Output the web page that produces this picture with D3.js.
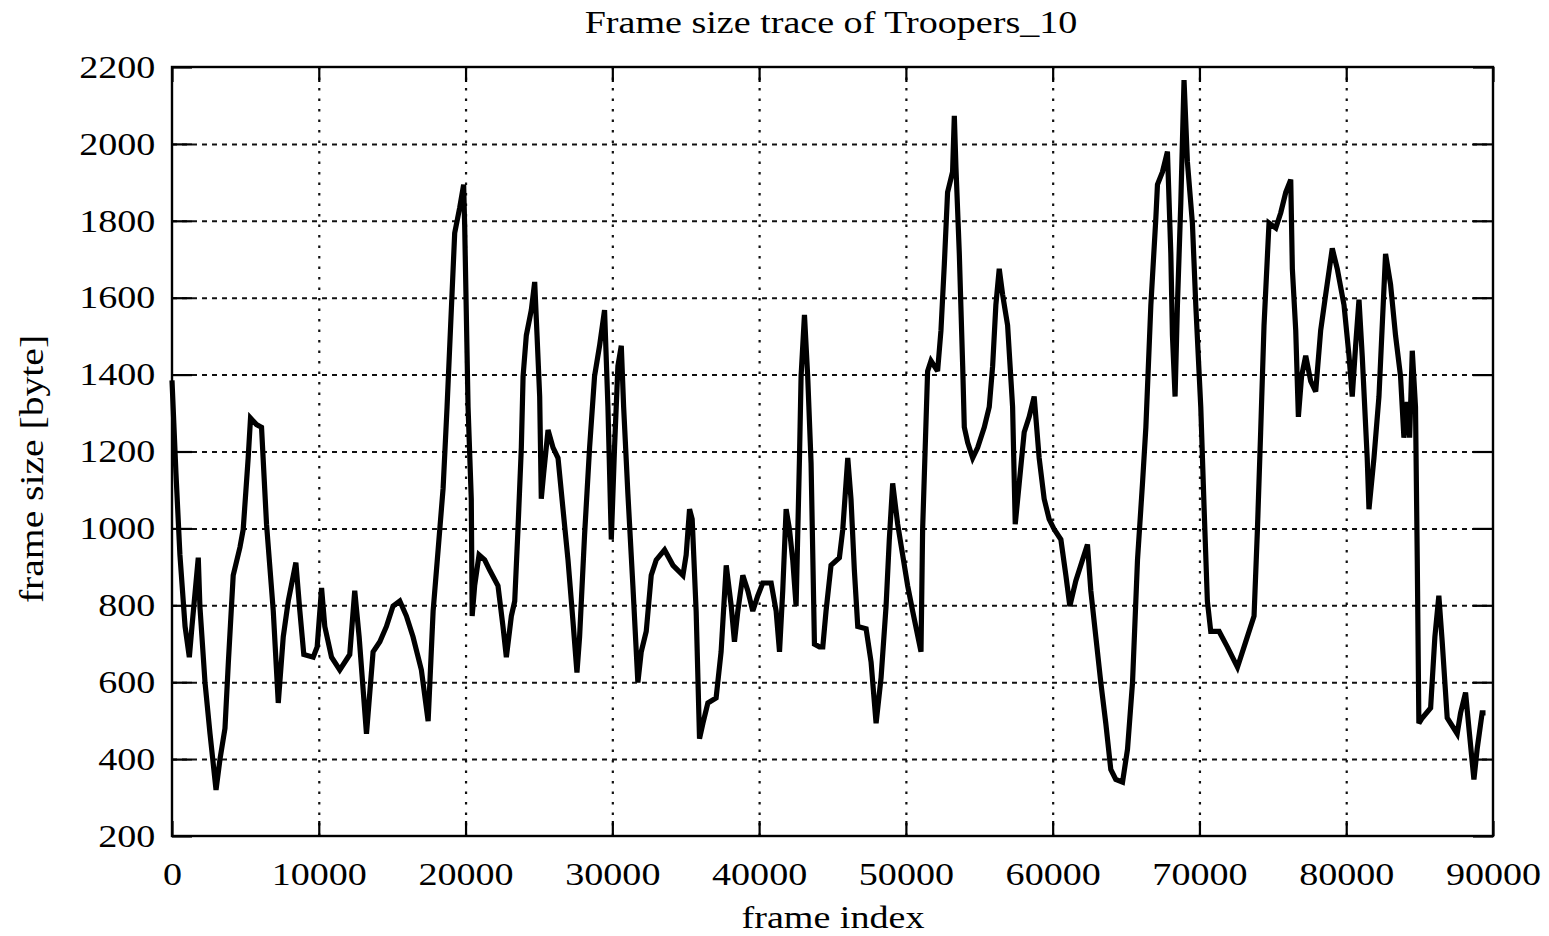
<!DOCTYPE html>
<html>
<head>
<meta charset="utf-8">
<script src="https://cdn.jsdelivr.net/npm/d3@7"></script>
<style>
  html, body { margin: 0; padding: 0; background: #fff; }
  svg { display: block; }
  text { font-family: "Liberation Serif", "Times New Roman", serif; fill: #000; }
</style>
</head>
<body>
<svg id="chart" width="1549" height="936"></svg>
<script>
const titleText = "Frame size trace of Troopers_10";
const xLabelText = "frame index";
const yLabelText = "frame size [byte]";

const xTicks = [0, 10000, 20000, 30000, 40000, 50000, 60000, 70000, 80000, 90000];
const yTicks = [200, 400, 600, 800, 1000, 1200, 1400, 1600, 1800, 2000, 2200];

const frameIndex = [
  0, 270, 540, 890, 1180, 1360, 1790, 1900, 2250, 2590, 3000, 3270, 3610, 3840, 4170, 4630, 4850,
  5190, 5350, 5760, 6100, 6440, 6900, 7240, 7580, 7920, 8440, 8710, 8980, 9620, 9890, 10190, 10410,
  10870, 11430, 12110, 12450, 12750, 13250, 13700, 14160, 14610, 15060, 15520, 15970, 16420, 16990,
  17450, 17790, 18130, 18470, 18740, 19030, 19260, 19600, 19870, 19940, 20170, 20390, 20450, 20620,
  20920, 21300, 21650, 22210, 22550, 22780, 23120, 23350, 23570, 23800, 23920, 24140, 24480, 24710,
  24870, 25050, 25160, 25320, 25620, 25960, 26300, 26640, 26980, 27320, 27590, 27770, 28110, 28450,
  28790, 29130, 29470, 29700, 29930, 30150, 30380, 30610, 30770, 31060, 31400, 31740, 31970, 32310,
  32650, 32990, 33560, 34130, 34810, 35030, 35260, 35440, 35710, 35940, 36170, 36510, 37070, 37410,
  37760, 38100, 38320, 38550, 38890, 39230, 39570, 39910, 40250, 40820, 41160, 41390, 41610, 41840,
  42070, 42290, 42520, 42750, 42860, 43090, 43310, 43540, 43770, 44110, 44340, 44560, 44900, 45470,
  45700, 46040, 46260, 46490, 46720, 47290, 47630, 47970, 48310, 48650, 48870, 49100, 49440, 49780,
  50120, 50460, 51030, 51140, 51480, 51710, 52160, 52390, 52620, 52840, 53180, 53300, 53410, 53640,
  53870, 53980, 54210, 54550, 54890, 55340, 55680, 55910, 56130, 56360, 56590, 56930, 57270, 57450,
  57720, 58060, 58400, 58740, 59080, 59420, 59760, 60110, 60560, 60900, 61170, 61580, 62030, 62370,
  62600, 62940, 63280, 63620, 63960, 64300, 64760, 65100, 65440, 65780, 66120, 66350, 66690, 67030,
  67140, 67480, 67820, 68050, 68160, 68340, 68500, 68730, 68950, 69180, 69520, 69750, 70090, 70320,
  70540, 70770, 71340, 71900, 72590, 73150, 73720, 73950, 74170, 74400, 74740, 75200, 75540, 75880,
  76220, 76330, 76560, 76740, 76960, 77240, 77580, 77920, 78260, 78600, 79050, 79390, 79850, 80190,
  80410, 80640, 80870, 81090, 81430, 81550, 81890, 82230, 82680, 83020, 83360, 83700, 83930, 84160,
  84320, 84500, 84720, 84840, 84950, 85180, 85750, 86040, 86310, 86540, 86880, 87560, 87790, 88130,
  88360, 88700, 88920, 89260, 89490
];

const frameSize = [
  1385, 1143, 931, 745, 665, 745, 924, 798, 599, 466, 320, 400, 480, 652, 878, 951, 997,
  1183, 1287, 1270, 1263, 1011, 785, 546, 718, 811, 911, 785, 672, 665, 692, 845, 745,
  665, 632, 672, 838, 718, 466, 679, 705, 745, 798, 811, 772, 718, 632,
  499, 785, 944, 1104, 1316, 1568, 1768, 1834, 1894, 1788, 1316, 1077, 772, 851,
  931, 918, 891, 851, 745, 665, 772, 811, 997, 1210, 1396, 1502, 1568, 1641,
  1502, 1343, 1077, 1143, 1256, 1210, 1183, 1050, 918, 758, 625, 718, 984, 1210,
  1396, 1475, 1568, 1316, 971, 1210, 1422, 1475, 1316, 1090, 851, 599, 679, 732,
  878, 918, 944, 904, 878, 931, 1050, 1024, 785, 453, 493, 546, 559, 679,
  904, 798, 705, 785, 878, 838, 785, 825, 858, 858, 785, 679, 838, 1050,
  997, 918, 798, 1183, 1396, 1555, 1396, 1170, 699, 692, 692, 785, 904, 924,
  997, 1183, 1077, 891, 745, 739, 652, 493, 612, 798, 971, 1117, 1011, 931,
  851, 785, 679, 997, 1409, 1436, 1409, 1515, 1688, 1874, 1927, 2073, 1940, 1714,
  1422, 1263, 1223, 1183, 1210, 1263, 1316, 1422, 1581, 1675, 1608, 1528, 1316, 1011,
  1117, 1250, 1290, 1343, 1183, 1077, 1024, 997, 971, 878, 798, 864, 918, 958,
  838, 718, 599, 493, 373, 347, 340, 426, 599, 918, 1117, 1263, 1581, 1807,
  1894, 1927, 1980, 1714, 1502, 1343, 1581, 1847, 2166, 1953, 1794, 1581, 1316, 1050,
  811, 732, 732, 692, 639, 705, 772, 997, 1250, 1528, 1794, 1781, 1821, 1874,
  1907, 1675, 1515, 1290, 1396, 1449, 1383, 1356, 1515, 1608, 1728, 1675, 1581, 1449,
  1343, 1475, 1595, 1449, 1183, 1050, 1183, 1343, 1714, 1635, 1502, 1396, 1236, 1329,
  1236, 1462, 1316, 918, 493, 507, 533, 718, 825, 705, 507, 466, 520, 573,
  480, 347, 426, 520, 520
];

(function () {
const FS = 32;      // font size
const SX = 1.19;    // horizontal stretch of the lettering
const fmt = d3.format("d");

const svg = d3.select("#chart");
svg.append("rect").attr("width", 1549).attr("height", 936).attr("fill", "#fff");

const pL = 172, pR = 1493, pT = 67, pB = 836;
const x = d3.scaleLinear().domain([0, 90000]).range([pL, pR]);
const y = d3.scaleLinear().domain([200, 2200]).range([pB, pT]);

// grid
const gridH = svg.append("g").attr("transform", `translate(${pL},0)`)
  .call(d3.axisLeft(y).tickValues(yTicks.slice(1, -1)).tickSize(-(pR - pL)).tickFormat(""));
gridH.select(".domain").remove();
gridH.selectAll("line").attr("stroke", "#111").attr("stroke-width", 2).attr("stroke-dasharray", "5,5");

const gridV = svg.append("g").attr("transform", `translate(0,${pB})`)
  .call(d3.axisBottom(x).tickValues(xTicks.slice(1, -1)).tickSize(-(pB - pT)).tickFormat(""));
gridV.select(".domain").remove();
gridV.selectAll("line").attr("stroke", "#111").attr("stroke-width", 2.2).attr("stroke-dasharray", "2.5,8");

// axes with inward ticks
const yTickLen = 20, xTickLen = 15;
const axL = svg.append("g").attr("transform", `translate(${pL},0)`)
  .call(d3.axisLeft(y).tickValues(yTicks).tickFormat(fmt).tickSizeInner(-yTickLen).tickSizeOuter(0).tickPadding(14));
const axR = svg.append("g").attr("transform", `translate(${pR},0)`)
  .call(d3.axisRight(y).tickValues(yTicks).tickSizeInner(-yTickLen).tickSizeOuter(0).tickFormat(""));
const axB = svg.append("g").attr("transform", `translate(0,${pB})`)
  .call(d3.axisBottom(x).tickValues(xTicks).tickFormat(fmt).tickSizeInner(-xTickLen).tickSizeOuter(0).tickPadding(26));
const axT = svg.append("g").attr("transform", `translate(0,${pT})`)
  .call(d3.axisTop(x).tickValues(xTicks).tickSizeInner(-xTickLen).tickSizeOuter(0).tickFormat(""));

[axL, axR, axB, axT].forEach(a => {
  a.select(".domain").remove();
  a.selectAll("line").attr("stroke", "#000").attr("stroke-width", 2.2);
});
axL.selectAll("text").attr("font-size", FS).attr("font-family", "Liberation Serif")
  .attr("transform", `scale(${SX},1)`);
axB.selectAll("text").attr("font-size", FS).attr("font-family", "Liberation Serif")
  .attr("transform", `scale(${SX},1)`);

// frame
svg.append("rect").attr("x", pL).attr("y", pT)
  .attr("width", pR - pL).attr("height", pB - pT)
  .attr("fill", "none").attr("stroke", "#000").attr("stroke-width", 2.4);

// data line
const pts = frameIndex.map((d, i) => [d, frameSize[i]]);
svg.append("path").datum(pts)
  .attr("fill", "none").attr("stroke", "#000").attr("stroke-width", 5.2)
  .attr("stroke-linejoin", "miter").attr("stroke-miterlimit", 3)
  .attr("d", d3.line().x(d => x(d[0])).y(d => y(d[1])));

// title and labels
svg.append("text").attr("transform", `translate(831,33) scale(${SX},1)`)
  .attr("text-anchor", "middle").attr("font-size", FS).text(titleText);
svg.append("text").attr("transform", `translate(833,928) scale(${SX},1)`)
  .attr("text-anchor", "middle").attr("font-size", FS).text(xLabelText);
svg.append("text").attr("transform", `translate(43,469) rotate(-90) scale(1.2,1)`)
  .attr("text-anchor", "middle").attr("font-size", FS + 1).text(yLabelText);
})();
</script>
</body>
</html>
